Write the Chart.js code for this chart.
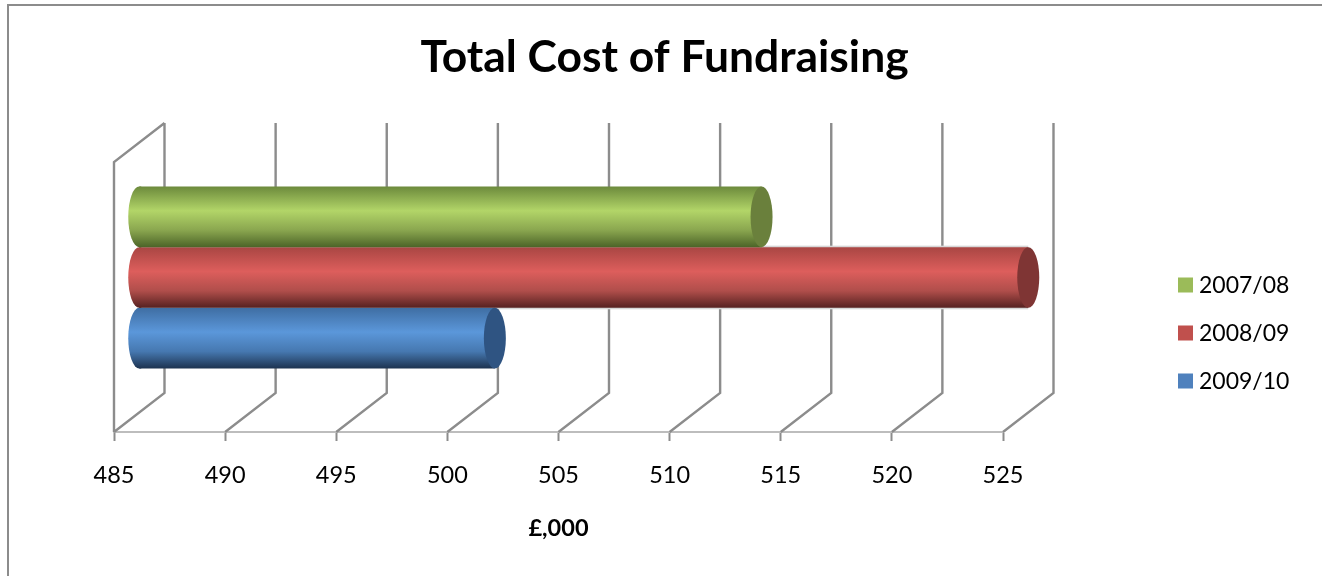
<!DOCTYPE html>
<html>
<head>
<meta charset="utf-8">
<title>Total Cost of Fundraising</title>
<script src="https://cdn.jsdelivr.net/npm/chart.js@4/dist/chart.umd.min.js"></script>
<style>
    html, body { margin: 0; padding: 0; background: #fff; overflow: hidden; }
    canvas { display: block; }
</style>
</head>
<body>
<canvas id="chart" width="1322" height="576"></canvas>
<script>
// data
var categories = [''];
var seriesNames = ['2007/08', '2008/09', '2009/10'];
var values0708 = [513];
var values0809 = [525];
var values0910 = [501];
var xTicks = [485, 490, 495, 500, 505, 510, 515, 520, 525];
var titleText = 'Total Cost of Fundraising';
var axisTitleText = '£,000';

// styles
var fontName = 'Lato, "Open Sans", sans-serif';
var legendColors = ['#9bbb59', '#c0504d', '#4f81bd'];
var capColors = ['#6a803c', '#7f3534', '#2f5482'];
var shades = [
    ['#6c8a3c', '#b2d568', '#8aa64f', '#4c6428'],
    ['#a94643', '#dd5e5c', '#b04e4b', '#562120'],
    ['#3f6ea3', '#5b97da', '#4678b0', '#1d3350']
];
var rimColors = [null, '#d6d6d6', null];
var wallColor = '#8c8c8c';
var depthX = 50.5;
var depthY = -39;
var capRadius = 11;

// vertical shading of one cylinder
function barGradient(ctx, top, bottom, colors)
{
    var gradient = ctx.createLinearGradient(0, top, 0, bottom);
    gradient.addColorStop(0, colors[0]);
    gradient.addColorStop(0.4, colors[1]);
    gradient.addColorStop(0.72, colors[2]);
    gradient.addColorStop(1, colors[3]);
    return gradient;
}

// frame, walls and legend
var scenePlugin = {
    id: 'scene',

    // outer frame
    beforeDraw: function(chart) {
        var ctx = chart.ctx;
        ctx.save();
        ctx.strokeStyle = wallColor;
        ctx.lineWidth = 2;
        ctx.beginPath();
        ctx.moveTo(8, 576);
        ctx.lineTo(8, 5);
        ctx.lineTo(1322, 5);
        ctx.stroke();
        ctx.restore();
    },

    // side wall, back grid lines and pale bar rims
    beforeDatasetsDraw: function(chart) {
        var ctx = chart.ctx;
        var area = chart.chartArea;
        var x = chart.scales.x;
        ctx.save();
        ctx.strokeStyle = wallColor;
        ctx.lineWidth = 2.4;
        ctx.beginPath();
        x.ticks.forEach(function(tick) {
            var px = x.getPixelForValue(tick.value);
            ctx.moveTo(px, area.bottom);
            ctx.lineTo(px + depthX, area.bottom + depthY);
            ctx.lineTo(px + depthX, area.top + depthY);
        });
        ctx.moveTo(area.left, area.bottom);
        ctx.lineTo(area.left, area.top);
        ctx.lineTo(area.left + depthX, area.top + depthY);
        ctx.stroke();
        rimColors.forEach(function(color, i) {
            if (!color) {
                return;
            }
            var bar = chart.getDatasetMeta(i).data[0];
            ctx.fillStyle = color;
            ctx.fillRect(area.left + depthX / 2, bar.y + depthY / 2 - bar.height / 2 - 1.5,
                         bar.x - area.left, bar.height + 3);
        });
        ctx.restore();
    },

    // push each bar to the middle of the depth and shade it
    beforeDatasetDraw: function(chart, args) {
        var ctx = chart.ctx;
        var colors = shades[args.index];
        ctx.save();
        ctx.translate(depthX / 2, depthY / 2);
        args.meta.data.forEach(function(bar) {
            var top = bar.y - bar.height / 2;
            bar.options = Object.assign({}, bar.options, {
                backgroundColor: barGradient(ctx, top, top + bar.height, colors)
            });
        });
    },

    // round ends of the bar
    afterDatasetDraw: function(chart, args) {
        var ctx = chart.ctx;
        var left = chart.scales.x.left;
        args.meta.data.forEach(function(bar) {
            var ry = bar.height / 2;
            ctx.fillStyle = bar.options.backgroundColor;
            ctx.beginPath();
            ctx.ellipse(left, bar.y, capRadius, ry, 0, Math.PI / 2, Math.PI * 1.5);
            ctx.lineTo(left + 2, bar.y - ry);
            ctx.lineTo(left + 2, bar.y + ry);
            ctx.closePath();
            ctx.fill();
            ctx.fillStyle = capColors[args.index];
            ctx.beginPath();
            ctx.ellipse(bar.x, bar.y, capRadius, ry, 0, 0, Math.PI * 2);
            ctx.fill();
        });
        ctx.restore();
    },

    // legend
    afterDraw: function(chart) {
        var ctx = chart.ctx;
        ctx.save();
        ctx.font = '23px ' + fontName;
        ctx.textBaseline = 'middle';
        chart.data.datasets.forEach(function(dataset, i) {
            var y = 285 + i * 48;
            ctx.fillStyle = dataset.backgroundColor;
            ctx.fillRect(1178, y - 7.5, 15, 15);
            ctx.fillStyle = '#000';
            ctx.fillText(dataset.label, 1199, y + 1);
        });
        ctx.restore();
    }
};

// datasets
var datasets = [values0708, values0809, values0910].map(function(values, i) {
    return {
        label: seriesNames[i],
        data: values,
        backgroundColor: legendColors[i],
        categoryPercentage: 0.674,
        barPercentage: 1
    };
});

// chart
new Chart(document.getElementById('chart'), {
    type: 'bar',
    data: { labels: categories, datasets: datasets },
    plugins: [scenePlugin],
    options: {
        indexAxis: 'y',
        responsive: false,
        animation: false,
        layout: { padding: { left: 7, top: 5 } },
        plugins: {
            legend: { display: false },
            tooltip: { enabled: false },
            title: {
                display: true,
                text: titleText,
                color: '#000',
                font: { family: fontName, size: 44.4, weight: 'bold' },
                padding: { top: 26, bottom: 77.7 }
            }
        },
        scales: {
            x: {
                min: xTicks[0],
                max: xTicks[xTicks.length - 1],
                afterBuildTicks: function(axis) {
                    axis.ticks = xTicks.map(function(value) { return { value: value }; });
                },
                afterFit: function(axis) { axis.height = 144; },
                border: { color: '#bdbdbd', width: 2 },
                grid: { drawOnChartArea: false, tickLength: 9, tickColor: wallColor, tickWidth: 2 },
                ticks: {
                    color: '#000',
                    padding: 20,
                    maxRotation: 0,
                    autoSkip: false,
                    font: { family: fontName, size: 23.5 }
                },
                title: {
                    display: true,
                    text: axisTitleText,
                    color: '#000',
                    font: { family: fontName, size: 23.5, weight: 'bold' },
                    padding: { top: 0, bottom: 33.5 }
                }
            },
            y: {
                afterFit: function(axis) { axis.width = 107; },
                border: { display: false },
                grid: { display: false },
                ticks: { display: false }
            },
            // keeps the room for the legend
            spacer: {
                type: 'linear',
                axis: 'y',
                position: 'right',
                afterFit: function(axis) { axis.width = 319; },
                border: { display: false },
                grid: { display: false },
                ticks: { display: false }
            }
        }
    }
});
</script>
</body>
</html>
